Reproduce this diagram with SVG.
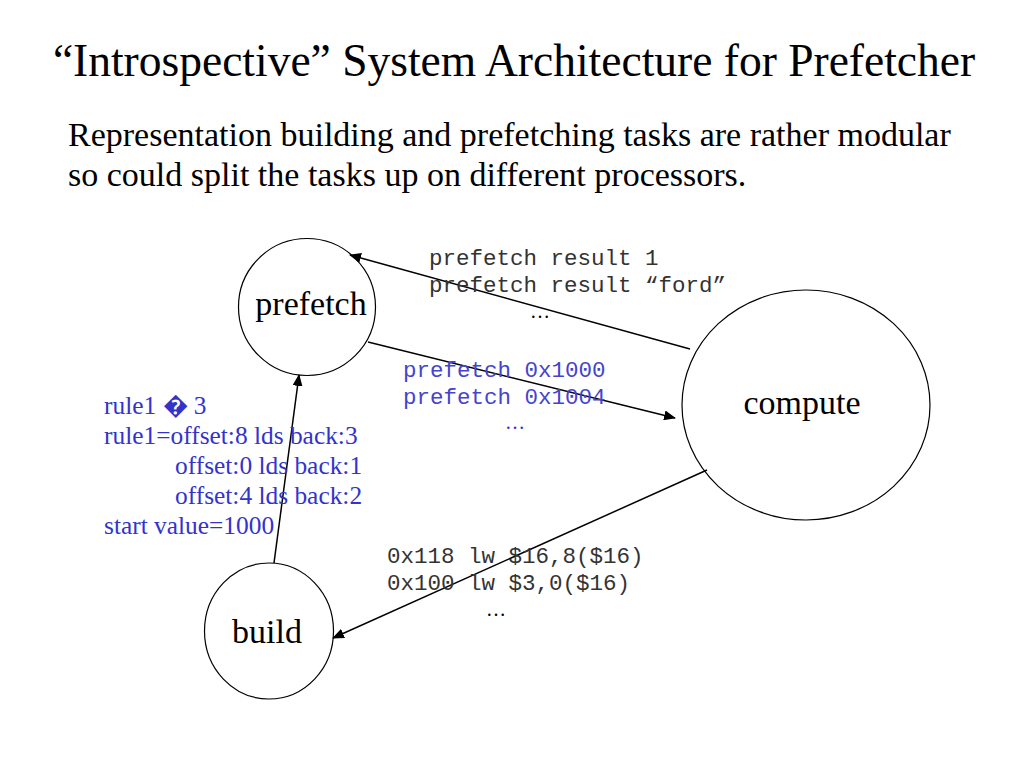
<svg xmlns="http://www.w3.org/2000/svg" width="1024" height="768" viewBox="0 0 1024 768">
<style>
.serif{font-family:"Liberation Serif","Times New Roman",serif;}
.mono{font-family:"Liberation Mono","Courier New",monospace;font-size:22.5px;fill:#333;}
.node{fill:#fff;stroke:#000;stroke-width:1.2;}
.lbl{font-size:34px;fill:#000;text-anchor:middle;}
.blue{fill:#3333cc;}
.edge{stroke:#000;stroke-width:1.5;fill:none;marker-end:url(#ah);}
</style>
<defs>
<marker id="ah" markerWidth="12" markerHeight="10" refX="11" refY="5" orient="auto" markerUnits="userSpaceOnUse">
<path d="M0,0 L12,5 L0,10 z" fill="#000"/>
</marker>
</defs>
<rect width="1024" height="768" fill="#fff"/>
<text class="serif" x="514" y="76" font-size="45.5" text-anchor="middle">“Introspective” System Architecture for Prefetcher</text>
<text class="serif" x="68" y="146" font-size="34">Representation building and prefetching tasks are rather modular</text>
<text class="serif" x="68" y="186" font-size="34">so could split the tasks up on different processors.</text>

<g id="prefetch">
<circle class="node" cx="307" cy="307" r="68.5"/>
<text class="serif lbl" x="311" y="315">prefetch</text>
</g>
<g id="compute">
<ellipse class="node" cx="806" cy="405" rx="124" ry="115"/>
<text class="serif lbl" x="802" y="414">compute</text>
</g>
<g id="build">
<ellipse class="node" cx="269" cy="631" rx="64.5" ry="68"/>
<text class="serif lbl" x="267" y="643">build</text>
</g>

<g id="connectors">
<line class="edge" x1="690" y1="349" x2="350" y2="255"/>
<line class="edge" x1="368" y1="342" x2="675" y2="418"/>
<line class="edge" x1="707" y1="470" x2="333" y2="638"/>
<line class="edge" x1="274" y1="563" x2="299" y2="375"/>
</g>

<g id="labels">
<text class="mono" x="429" y="265">prefetch result 1</text>
<text class="mono" x="429" y="292">prefetch result “ford”</text>
<text class="serif" x="530" y="318" font-size="20">…</text>
<text class="mono" x="403" y="377" style="fill:#4444cc">prefetch 0x1000</text>
<text class="mono" x="403" y="404" style="fill:#4444cc">prefetch 0x1004</text>
<text class="serif blue" x="505" y="429" font-size="20">…</text>
<text class="mono" x="387" y="563">0x118 lw $16,8($16)</text>
<text class="mono" x="387" y="590">0x100 lw $3,0($16)</text>
<text class="serif" x="486" y="616" font-size="20">…</text>
<g class="serif blue" font-size="25.4">
<text x="104" y="414">rule1 � 3</text>
<text x="104" y="444">rule1=offset:8 lds back:3</text>
<text x="175" y="474">offset:0 lds back:1</text>
<text x="175" y="504">offset:4 lds back:2</text>
<text x="104" y="534">start value=1000</text>
</g>
</g>
</svg>
